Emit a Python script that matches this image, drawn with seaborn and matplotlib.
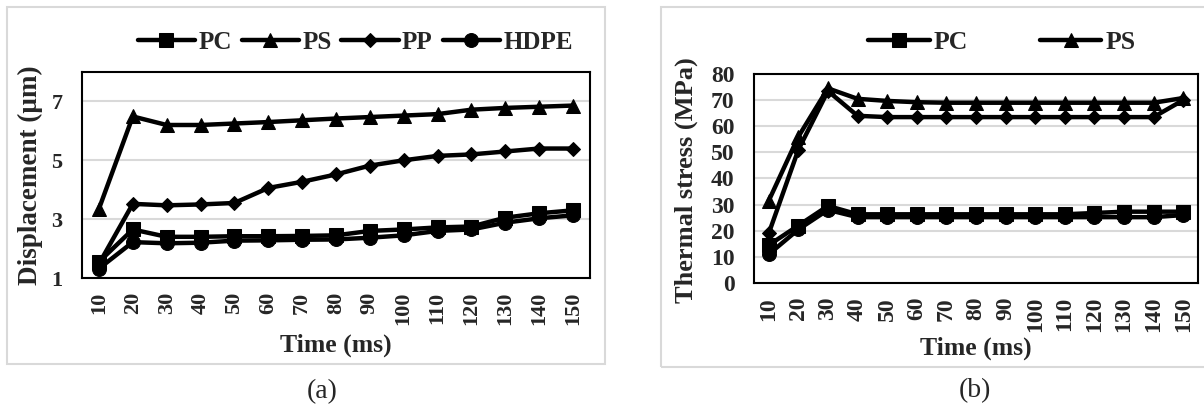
"""
Displacement and thermal stress vs. time for four polymers
"""

import numpy as np
import pandas as pd
import matplotlib
matplotlib.use("Agg")
import matplotlib.pyplot as plt
from matplotlib.patches import Rectangle
import seaborn as sns

# ---- data ----
time_ms = [10, 20, 30, 40, 50, 60, 70, 80, 90, 100, 110, 120, 130, 140, 150]
materials = ["PC", "PS", "PP", "HDPE"]

# (a) displacement (um)
disp_pc = [1.55, 2.65, 2.4, 2.4, 2.42, 2.42, 2.43, 2.45, 2.6, 2.65, 2.72, 2.75, 3.05, 3.2, 3.3]
disp_ps = [3.35, 6.49, 6.2, 6.2, 6.25, 6.3, 6.36, 6.42, 6.47, 6.52, 6.57, 6.72, 6.78, 6.82, 6.86]
disp_pp = [1.48, 3.52, 3.47, 3.5, 3.55, 4.06, 4.27, 4.52, 4.82, 5.0, 5.15, 5.2, 5.3, 5.4, 5.4]
disp_hdpe = [1.32, 2.22, 2.18, 2.2, 2.27, 2.28, 2.3, 2.31, 2.37, 2.45, 2.6, 2.65, 2.88, 3.03, 3.13]

# (b) thermal stress (MPa)
stress_pc = [14.5, 22.0, 29.5, 26.3, 26.3, 26.3, 26.3, 26.3, 26.3, 26.3, 26.3, 26.8, 27.3, 27.3, 27.3]
stress_ps = [31.5, 56.0, 74.5, 70.5, 69.7, 69.2, 69.0, 69.0, 69.0, 69.0, 69.0, 69.0, 69.0, 69.0, 70.8]
stress_pp = [19.0, 51.0, 73.5, 64.0, 63.5, 63.5, 63.5, 63.5, 63.5, 63.5, 63.5, 63.5, 63.5, 63.5, 70.0]
stress_hdpe = [11.0, 20.5, 28.0, 25.2, 25.2, 25.2, 25.2, 25.2, 25.2, 25.2, 25.2, 25.2, 25.2, 25.2, 26.0]

markers = {"PC": "s", "PS": "^", "PP": "D", "HDPE": "o"}
marker_sizes = {"PC": 10, "PS": 10, "PP": 7.5, "HDPE": 10}

sns.set_style("white")
plt.rcParams["font.family"] = ["Liberation Serif", "DejaVu Serif"]
plt.rcParams["font.weight"] = "bold"

fig = plt.figure(figsize=(12.04, 4.12), dpi=100)

# grey outer frames of each panel
fig.patches.append(Rectangle((0.0058, 0.1165), 0.4967, 0.8665, transform=fig.transFigure,
                             fill=False, edgecolor="#d9d9d9", linewidth=1.5))
fig.patches.append(Rectangle((0.549, 0.1092), 0.47, 0.8738, transform=fig.transFigure,
                             fill=False, edgecolor="#d9d9d9", linewidth=1.5))

ax_a = fig.add_axes([0.0681, 0.3252, 0.4219, 0.5])
ax_b = fig.add_axes([0.6262, 0.3131, 0.3688, 0.5073])


def to_long(series):
    frames = []
    for name, vals in zip(materials, series):
        frames.append(pd.DataFrame({"time": time_ms, "value": vals, "material": name}))
    return pd.concat(frames, ignore_index=True)


df_a = to_long([disp_pc, disp_ps, disp_pp, disp_hdpe])
df_b = to_long([stress_pc, stress_ps, stress_pp, stress_hdpe])


def draw(ax, df, tick_size):
    for name in materials:
        sub = df[df["material"] == name]
        sns.lineplot(data=sub, x="time", y="value", ax=ax, color="black",
                     linewidth=3.2, marker=markers[name], markersize=marker_sizes[name],
                     markeredgecolor="black", label=name)
    ax.set_xlim(5, 155)
    ax.set_xticks(time_ms)
    ax.set_xticklabels([str(t) for t in time_ms], rotation=90, fontsize=tick_size,
                       fontweight="bold")
    ax.grid(axis="y", color="#d9d9d9", linewidth=1.5)
    ax.set_axisbelow(True)
    for sp in ax.spines.values():
        sp.set_color("black")
        sp.set_linewidth(1.5)
    ax.tick_params(length=0)
    ax.tick_params(axis="x", pad=10)
    ax.tick_params(axis="y", pad=14, labelsize=tick_size)


draw(ax_a, df_a, 16)
ax_a.set_ylim(1, 8)
ax_a.set_yticks([1, 3, 5, 7])
ax_a.set_xlabel("Time (ms)", fontsize=18.5, fontweight="bold")
ax_a.set_ylabel("Displacement (\u03bcm)", fontsize=19.5, fontweight="bold")
ax_a.xaxis.set_label_coords(0.5, -0.325)
ax_a.xaxis.label.set_va("center")
ax_a.yaxis.set_label_coords(-0.102, 0.5)
ax_a.yaxis.label.set_va("center")
handles, labels = ax_a.get_legend_handles_labels()
ax_a.legend(handles, labels, loc="center", bbox_to_anchor=(0.295, 0.898),
            bbox_transform=fig.transFigure, ncol=4, frameon=False, fontsize=18,
            handlelength=2.3, handletextpad=0.12, columnspacing=0.4)

draw(ax_b, df_b, 17)
ax_b.set_ylim(0, 80)
ax_b.set_yticks(np.arange(0, 81, 10))
ax_b.set_xlabel("Time (ms)", fontsize=18.5, fontweight="bold")
ax_b.set_ylabel("Thermal stress (MPa)", fontsize=19, fontweight="bold")
ax_b.xaxis.set_label_coords(0.5, -0.31)
ax_b.xaxis.label.set_va("center")
ax_b.yaxis.set_label_coords(-0.152, 0.49)
ax_b.yaxis.label.set_va("center")
handles, labels = ax_b.get_legend_handles_labels()
ax_b.legend(handles[:2], labels[:2], loc="center", bbox_to_anchor=(0.832, 0.896),
            bbox_transform=fig.transFigure, ncol=2, frameon=False, fontsize=18.5,
            handlelength=2.4, handletextpad=0.15, columnspacing=2.8)

fig.text(0.2675, 0.049, "(a)", ha="center", va="center", fontsize=20, fontweight="normal")
fig.text(0.81, 0.053, "(b)", ha="center", va="center", fontsize=20, fontweight="normal")

fig.savefig("out.png", dpi=100)
plt.close(fig)
